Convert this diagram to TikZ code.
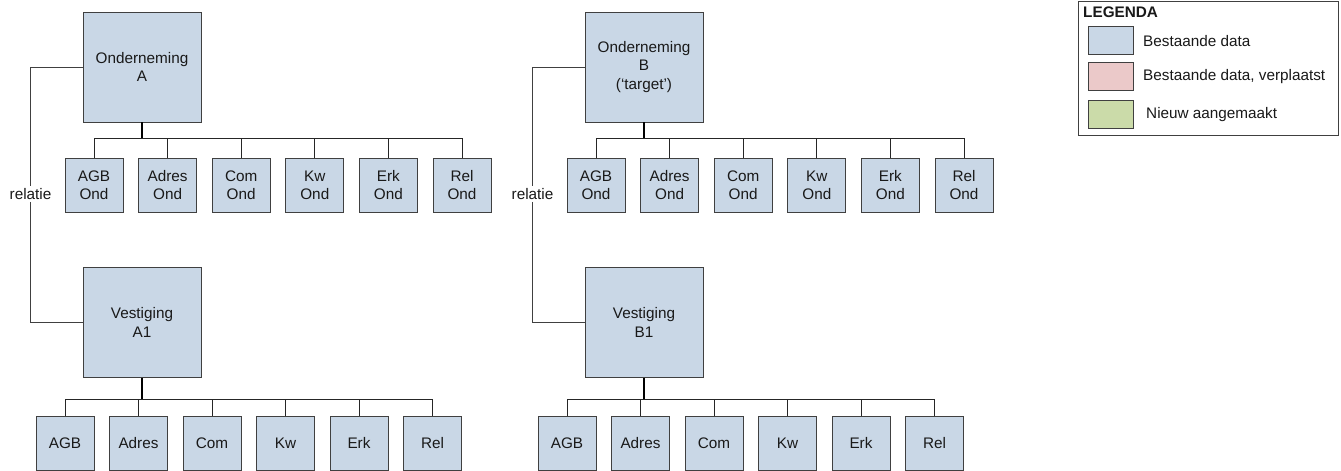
\documentclass[tikz,border=0pt]{standalone}
\usepackage{fontspec}
\setmainfont{Liberation Sans}
\definecolor{boxblue}{HTML}{C9D7E6}
\definecolor{boxpink}{HTML}{EBC9C9}
\definecolor{boxgreen}{HTML}{CBDBA9}
\definecolor{edge}{HTML}{404040}
\tikzset{
  txt/.style={font=\fontsize{15.3}{18.3}\selectfont, align=center, text=black!90},
  bigbox/.style={txt, draw=edge, line width=0.8pt, fill=boxblue, minimum width=118pt, minimum height=110pt, inner sep=0pt},
  smallbox/.style={txt, draw=edge, line width=0.8pt, fill=boxblue, minimum width=58pt, minimum height=54pt, inner sep=0pt},
  swatch/.style={draw=edge, line width=0.8pt, minimum width=45pt, minimum height=28pt, inner sep=0pt},
  trunk/.style={line width=2pt, black},
  drop/.style={line width=0.9pt, black!85},
  relline/.style={line width=0.9pt, black!75},
  rellabel/.style={txt, fill=white, inner sep=2pt},
  legtext/.style={txt, anchor=west, inner sep=0pt},
}
\begin{document}
\begin{tikzpicture}[x=1pt,y=-1pt]
\useasboundingbox (0,0) rectangle (1341,471);
\fill[white] (0,0) rectangle (1341,471);

% ---------- Tree A ----------
\node[bigbox] (OA) at (142,67) {Onderneming\\A};
\node[smallbox] (OA1) at (94,185) {AGB\\Ond};
\node[smallbox] (OA2) at (167.6,185) {Adres\\Ond};
\node[smallbox] (OA3) at (241.2,185) {Com\\Ond};
\node[smallbox] (OA4) at (314.8,185) {Kw\\Ond};
\node[smallbox] (OA5) at (388.4,185) {Erk\\Ond};
\node[smallbox] (OA6) at (462,185) {Rel\\Ond};
\coordinate (busOA) at (142,138);
\foreach \i in {1,...,6} \draw[drop] (OA\i.north) |- (busOA);
\draw[trunk] (OA.south) -- (busOA);

\node[bigbox] (VA) at (142,322.5) {Vestiging\\A1};
\node[smallbox] (VA1) at (65,443) {AGB};
\node[smallbox] (VA2) at (138.5,443) {Adres};
\node[smallbox] (VA3) at (212,443) {Com};
\node[smallbox] (VA4) at (285.5,443) {Kw};
\node[smallbox] (VA5) at (359,443) {Erk};
\node[smallbox] (VA6) at (432.5,443) {Rel};
\coordinate (busVA) at (142,399);
\foreach \i in {1,...,6} \draw[drop] (VA\i.north) |- (busVA);
\draw[trunk] (VA.south) -- (busVA);

\node[rellabel] (RA) at (30.5,194) {relatie};
\draw[relline] (OA.west) -| (RA.north);
\draw[relline] (RA.south) |- (VA.west);

% ---------- Tree B ----------
\node[bigbox] (OB) at (644,67) {Onderneming\\B\\(‘target’)};
\node[smallbox] (OB1) at (596,185) {AGB\\Ond};
\node[smallbox] (OB2) at (669.6,185) {Adres\\Ond};
\node[smallbox] (OB3) at (743.2,185) {Com\\Ond};
\node[smallbox] (OB4) at (816.8,185) {Kw\\Ond};
\node[smallbox] (OB5) at (890.4,185) {Erk\\Ond};
\node[smallbox] (OB6) at (964,185) {Rel\\Ond};
\coordinate (busOB) at (644,138);
\foreach \i in {1,...,6} \draw[drop] (OB\i.north) |- (busOB);
\draw[trunk] (OB.south) -- (busOB);

\node[bigbox] (VB) at (644,322.5) {Vestiging\\B1};
\node[smallbox] (VB1) at (567,443) {AGB};
\node[smallbox] (VB2) at (640.5,443) {Adres};
\node[smallbox] (VB3) at (714,443) {Com};
\node[smallbox] (VB4) at (787.5,443) {Kw};
\node[smallbox] (VB5) at (861,443) {Erk};
\node[smallbox] (VB6) at (934.5,443) {Rel};
\coordinate (busVB) at (644,399);
\foreach \i in {1,...,6} \draw[drop] (VB\i.north) |- (busVB);
\draw[trunk] (VB.south) -- (busVB);

\node[rellabel] (RB) at (532.5,194) {relatie};
\draw[relline] (OB.west) -| (RB.north);
\draw[relline] (RB.south) |- (VB.west);

% ---------- Legend ----------
\node[draw=edge, line width=0.8pt, minimum width=260pt, minimum height=134pt, inner sep=0pt, anchor=north west] (LEG) at (1078,0.5) {};
\node[txt, font=\fontsize{15.3}{18.3}\selectfont\bfseries, anchor=west, inner sep=0pt] (LT) at (1083,12) {LEGENDA};
\node[swatch, fill=boxblue] (S1) at (1110.5,40) {};
\node[swatch, fill=boxpink] (S2) at (1110.5,76.5) {};
\node[swatch, fill=boxgreen] (S3) at (1111,114) {};
\node[legtext] (L1) at (1143,41) {Bestaande data};
\node[legtext] (L2) at (1143,77) {Bestaande data, verplaatst};
\node[legtext] (L3) at (1146,115) {Nieuw aangemaakt};
\end{tikzpicture}
\end{document}
